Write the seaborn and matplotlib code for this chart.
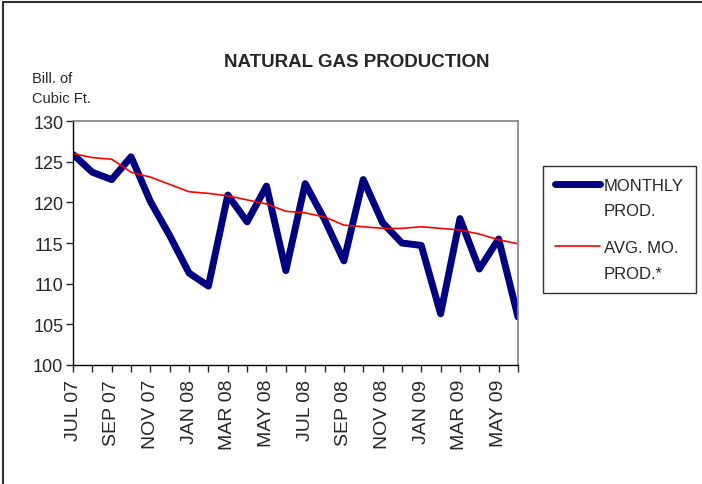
import pandas as pd
import matplotlib
matplotlib.use("Agg")
import matplotlib.pyplot as plt
import seaborn as sns
from matplotlib.lines import Line2D
from matplotlib.legend_handler import HandlerLine2D

# Monthly natural gas production, Jul 2007 - Jun 2009 (Bill. of Cubic Ft.)
months = ["JUL 07", "AUG 07", "SEP 07", "OCT 07", "NOV 07", "DEC 07",
          "JAN 08", "FEB 08", "MAR 08", "APR 08", "MAY 08", "JUN 08",
          "JUL 08", "AUG 08", "SEP 08", "OCT 08", "NOV 08", "DEC 08",
          "JAN 09", "FEB 09", "MAR 09", "APR 09", "MAY 09", "JUN 09"]
monthly_prod = [125.9, 123.7, 122.8, 125.6, 120.1, 115.9,
                111.3, 109.7, 120.9, 117.6, 122.0, 111.6,
                122.3, 117.9, 112.8, 122.8, 117.5, 115.0,
                114.7, 106.3, 118.0, 111.8, 115.5, 105.9]
avg_prod = [126.0, 125.5, 125.3, 123.7, 123.1, 122.2,
            121.3, 121.1, 120.8, 120.3, 119.8, 118.9,
            118.7, 118.2, 117.2, 117.0, 116.8, 116.8,
            117.0, 116.8, 116.6, 116.1, 115.4, 114.9]

df = pd.DataFrame({"idx": range(len(months)), "month": months,
                   "monthly": monthly_prod, "avg": avg_prod})


class TopAlignedLine(HandlerLine2D):
    # put the legend line next to the first text line, like Excel does
    def create_artists(self, legend, orig_handle, xdescent, ydescent,
                       width, height, fontsize, trans):
        arts = super().create_artists(legend, orig_handle, xdescent, ydescent,
                                      width, height, fontsize, trans)
        for a in arts:
            a.set_ydata([y + 0.88 * fontsize for y in a.get_ydata()])
        return arts


sns.set_style("white")
plt.rcParams['font.family'] = ['Liberation Sans', 'DejaVu Sans']

fig = plt.figure(figsize=(7.02, 4.85), dpi=100)
ax = fig.add_axes([73 / 702, 1 - 366 / 485, 445 / 702, 244 / 485])

sns.lineplot(data=df, x="idx", y="monthly", ax=ax, color="#000080",
             linewidth=5, label="MONTHLY\nPROD.", solid_capstyle="round",
             solid_joinstyle="round")
sns.lineplot(data=df, x="idx", y="avg", ax=ax, color="#ff0000",
             linewidth=1.2, label="AVG. MO.\nPROD.*")

ax.set_xlim(0, len(months) - 1)
ax.set_ylim(100, 130)
ax.set_yticks(range(100, 131, 5))
ax.set_xticks(range(len(months)))
ax.set_xticklabels([m if i % 2 == 0 else "" for i, m in enumerate(months)],
                   rotation=90, fontsize=14)
ax.tick_params(axis="y", labelsize=13, length=5, width=1, direction="out",
               left=True, pad=2)
ax.tick_params(axis="x", length=5, width=1, direction="out", bottom=True,
               pad=5)
ax.set_xlabel("")
ax.set_ylabel("")

for side in ["left", "bottom"]:
    ax.spines[side].set_color("black")
    ax.spines[side].set_linewidth(1)
for side in ["top", "right"]:
    ax.spines[side].set_color("#808080")
    ax.spines[side].set_linewidth(1.2)

handles, labels = ax.get_legend_handles_labels()
leg = ax.legend(handles, labels, loc="upper left",
                bbox_to_anchor=(543 / 702, 1 - 167 / 485),
                bbox_transform=fig.transFigure, fontsize=12, frameon=True,
                fancybox=False, edgecolor="black", handlelength=2.7,
                handletextpad=0.25, borderpad=0.7, labelspacing=1.3,
                borderaxespad=0,
                handler_map={Line2D: TopAlignedLine()})
leg.get_frame().set_linewidth(1)
for t in leg.get_texts():
    t.set_linespacing(1.9)

fig.text(357 / 702, 1 - 67 / 485, "NATURAL GAS PRODUCTION", ha="center",
         va="baseline", fontsize=13.5, fontweight="bold")
fig.text(32 / 702, 1 - 83 / 485, "Bill. of", ha="left", va="baseline",
         fontsize=10.5)
fig.text(32 / 702, 1 - 103 / 485, "Cubic Ft.", ha="left", va="baseline",
         fontsize=10.5)

# chart frame (top and left edges visible)
fig.add_artist(Line2D([2.5 / 702, 2.5 / 702], [0, 1 - 2.5 / 485],
                      transform=fig.transFigure, color="#333333", lw=1.5))
fig.add_artist(Line2D([2.5 / 702, 1], [1 - 2.5 / 485, 1 - 2.5 / 485],
                      transform=fig.transFigure, color="#333333", lw=1.5))

fig.savefig("out.png", dpi=100)
